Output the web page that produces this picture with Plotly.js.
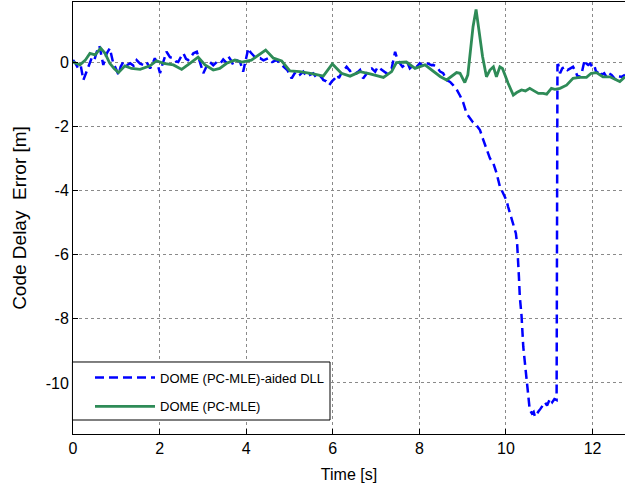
<!DOCTYPE html>
<html>
<head>
<meta charset="utf-8">
<script src="https://cdn.plot.ly/plotly-3.0.1.min.js"></script>
<style>html,body{margin:0;padding:0;background:#fff;}#chart{width:625px;height:488px;}</style>
</head>
<body>
<div id="chart"></div>
<script>
const seriesNames = ["DOME (PC-MLE)-aided DLL", "DOME (PC-MLE)"];
const xTickVals = [0, 2, 4, 6, 8, 10, 12];
const yTickVals = [-10, -8, -6, -4, -2, 0];

const aidedX = [0.00,0.06,0.12,0.18,0.24,0.31,0.37,0.43,0.49,0.55,0.61,0.66,0.70,0.74,0.78,0.85,0.89,0.93,0.99,1.05,1.10,1.16,1.24,1.32,1.40,1.47,1.55,1.62,1.70,1.78,1.84,1.89,1.95,2.01,2.06,2.11,2.16,2.24,2.32,2.38,2.43,2.49,2.55,2.61,2.66,2.72,2.78,2.86,2.93,3.01,3.08,3.16,3.24,3.32,3.40,3.47,3.53,3.59,3.65,3.70,3.78,3.86,3.93,3.98,4.05,4.10,4.16,4.24,4.32,4.40,4.51,4.60,4.70,4.78,4.86,4.95,5.05,5.12,5.18,5.24,5.32,5.40,5.47,5.55,5.62,5.67,5.73,5.78,5.85,5.92,5.98,6.05,6.11,6.14,6.20,6.26,6.32,6.40,6.47,6.55,6.63,6.70,6.78,6.86,6.90,6.98,7.04,7.09,7.17,7.24,7.30,7.36,7.44,7.50,7.55,7.61,7.67,7.72,7.78,7.86,7.94,8.01,8.07,8.13,8.20,8.28,8.32,8.40,8.48,8.55,8.63,8.71,8.78,8.86,8.94,9.01,9.09,9.17,9.24,9.31,9.40,9.47,9.55,9.63,9.71,9.78,9.86,9.94,10.01,10.05,10.11,10.17,10.23,10.26,10.28,10.30,10.32,10.36,10.40,10.44,10.48,10.52,10.55,10.60,10.64,10.67,10.71,10.75,10.80,10.85,10.90,10.95,11.02,11.07,11.12,11.17,11.19,11.21,11.25,11.30,11.36,11.42,11.48,11.55,11.61,11.67,11.71,11.75,11.79,11.82,11.86,11.90,11.95,12.01,12.05,12.09,12.15,12.21,12.27,12.32,12.38,12.44,12.50,12.55,12.61,12.67,12.75];
const aidedY = [0.06,-0.05,-0.20,-0.12,-0.56,-0.30,-0.05,0.12,0.05,0.32,0.50,0.20,-0.09,0.10,0.27,0.43,0.15,-0.04,-0.20,-0.40,-0.15,0.00,-0.10,-0.04,-0.12,0.06,-0.05,-0.09,0.00,-0.20,-0.05,0.12,-0.05,-0.35,-0.10,0.10,0.32,0.15,0.12,0.02,0.00,0.15,0.27,0.10,0.06,0.15,0.27,0.32,0.00,-0.35,-0.15,0.00,-0.10,0.00,-0.05,0.08,0.00,0.17,0.05,-0.09,0.05,0.00,-0.30,0.00,0.43,0.30,0.22,0.10,0.12,0.05,0.12,0.00,0.06,-0.05,-0.15,-0.25,-0.51,-0.35,-0.45,-0.40,-0.30,-0.45,-0.40,-0.35,-0.48,-0.51,-0.45,-0.56,-0.60,-0.72,-0.60,-0.51,-0.40,-0.50,-0.35,-0.25,-0.15,-0.28,-0.25,-0.35,-0.25,-0.51,-0.35,-0.22,-0.20,-0.30,-0.15,-0.20,-0.30,-0.35,-0.25,-0.20,0.32,0.05,-0.04,-0.15,-0.09,0.00,-0.20,-0.10,-0.15,-0.04,-0.10,-0.04,-0.05,-0.10,-0.09,-0.15,-0.30,-0.35,-0.56,-0.62,-0.72,-0.85,-1.05,-1.25,-1.60,-1.75,-1.88,-1.95,-2.12,-2.40,-2.69,-3.00,-3.16,-3.45,-3.88,-4.09,-4.30,-4.51,-4.80,-5.08,-5.34,-5.70,-6.10,-6.70,-7.31,-7.90,-8.87,-9.40,-9.91,-10.40,-10.84,-10.95,-10.90,-11.05,-10.95,-10.89,-10.80,-10.70,-10.60,-10.70,-10.48,-10.60,-10.50,-10.53,-0.10,-0.09,-0.35,-0.20,-0.15,-0.25,-0.20,-0.15,-0.30,-0.51,-0.40,-0.35,-0.10,0.06,-0.05,-0.09,-0.05,-0.20,-0.15,-0.35,-0.25,-0.40,-0.35,-0.46,-0.35,-0.40,-0.50,-0.56,-0.45,-0.46,-0.40];

const mleX = [0.00,0.16,0.28,0.39,0.51,0.64,0.74,0.85,0.95,1.05,1.20,1.35,1.55,1.78,1.93,2.09,2.32,2.51,2.70,2.89,3.05,3.24,3.39,3.55,3.74,3.90,4.12,4.24,4.45,4.63,4.82,5.01,5.24,5.55,5.78,5.99,6.20,6.40,6.63,6.86,7.17,7.36,7.47,7.70,7.90,8.13,8.32,8.48,8.63,8.86,8.94,9.05,9.12,9.17,9.24,9.31,9.38,9.46,9.55,9.63,9.71,9.78,9.86,9.92,10.05,10.17,10.25,10.36,10.45,10.55,10.65,10.75,10.86,10.94,11.05,11.13,11.25,11.40,11.55,11.70,11.86,11.97,12.09,12.24,12.40,12.55,12.63,12.75];
const mleY = [0.00,-0.09,0.05,0.27,0.22,0.43,0.27,-0.04,-0.20,-0.33,-0.12,-0.20,-0.23,-0.12,0.04,-0.04,-0.09,-0.23,-0.04,0.15,-0.09,-0.25,-0.20,-0.04,0.06,0.00,0.06,0.17,0.37,0.12,0.03,-0.28,-0.30,-0.37,-0.44,-0.06,-0.35,-0.44,-0.30,-0.37,-0.48,-0.30,-0.02,0.00,-0.20,-0.09,-0.30,-0.45,-0.56,-0.33,-0.35,-0.64,-0.40,0.17,1.10,1.64,0.89,0.17,-0.46,-0.25,-0.15,-0.46,-0.15,-0.20,-0.66,-1.03,-0.95,-0.87,-0.90,-0.82,-0.90,-0.98,-0.98,-1.00,-0.82,-0.85,-0.82,-0.72,-0.51,-0.48,-0.48,-0.35,-0.33,-0.46,-0.46,-0.56,-0.61,-0.46];

const sans = "Liberation Sans, Arial, sans-serif";
const font = {family: sans, size: 16, color: "#000"};
const legendFont = {family: sans, size: 13, color: "#000"};
const yTitleFont = {family: sans, size: 19, color: "#000"};

const traces = [
  {x: aidedX, y: aidedY, type: "scatter", mode: "lines", name: seriesNames[0], legendgroup: "a",
   line: {color: "#0000FF", width: 2.5, dash: "9px,5px"}},
  {x: mleX, y: mleY, type: "scatter", mode: "lines", name: seriesNames[1], legendgroup: "b",
   line: {color: "#2E8B57", width: 2.8}}
];

const axisCommon = {
  showline: true, linecolor: "#000", linewidth: 1, mirror: true,
  ticks: "inside", ticklen: 5, tickcolor: "#000",
  showgrid: true, gridcolor: "#8a8a8a", gridwidth: 1, griddash: "dot",
  zeroline: false, tickfont: font
};

const layout = {
  width: 625, height: 488,
  margin: {l: 73, r: 0, t: 2, b: 54},
  paper_bgcolor: "#fff", plot_bgcolor: "#fff",
  font: font,
  showlegend: true,
  xaxis: Object.assign({}, axisCommon, {
    range: [0, 12.75], tickvals: xTickVals, ticktext: xTickVals.map(String),
    title: {text: "Time [s]", font: font, standoff: 12}
  }),
  yaxis: Object.assign({}, axisCommon, {
    range: [-11.59, 1.87], tickvals: yTickVals, ticktext: yTickVals.map(String),
    title: {text: "Code Delay\u00a0 Error [m]", font: yTitleFont, standoff: 14}
  }),
  shapes: [
    {type: "rect", xref: "paper", yref: "paper", x0: -0.001, x1: 0.4656, y0: 0.0324, y1: 0.1667,
     line: {color: "#000", width: 1}, fillcolor: "#fff", layer: "above"}
  ],
  legend: {
    x: 0.0308, y: 0.0972, xanchor: "left", yanchor: "middle",
    bgcolor: "rgba(0,0,0,0)", borderwidth: 0,
    font: legendFont,
    traceorder: "grouped", tracegroupgap: 9, itemwidth: 60
  }
};

Plotly.newPlot("chart", traces, layout, {staticPlot: true, displayModeBar: false});
</script>
</body>
</html>
